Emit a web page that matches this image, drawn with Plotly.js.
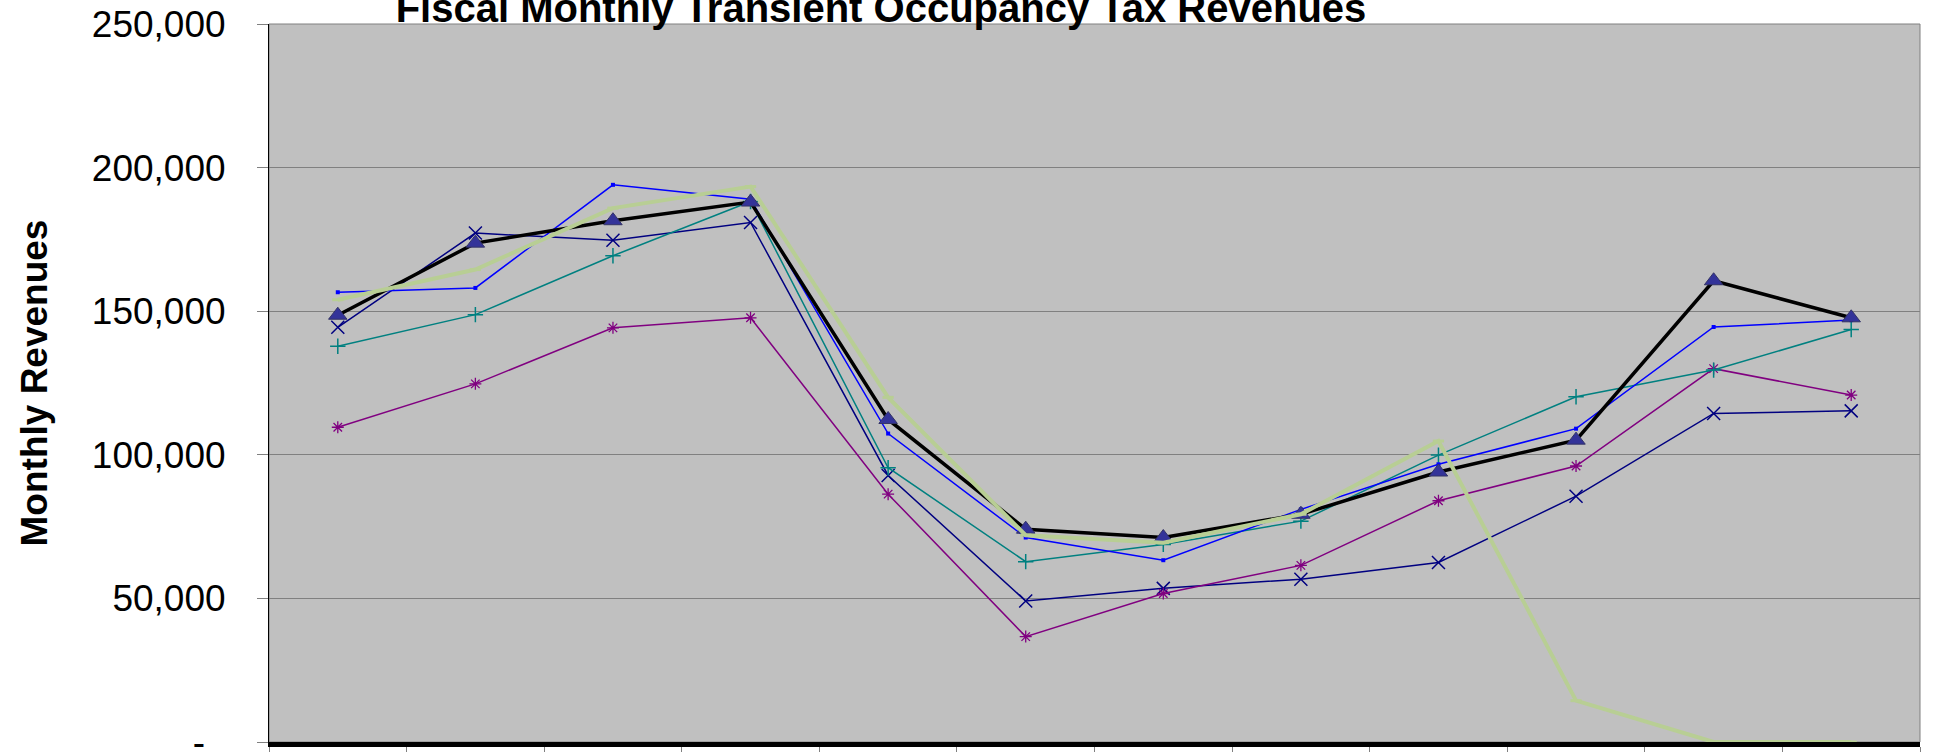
<!DOCTYPE html>
<html>
<head>
<meta charset="utf-8">
<script src="https://cdn.plot.ly/plotly-3.0.1.min.js"></script>
<style>html,body{margin:0;padding:0;background:#fff;}#chart{width:1933px;height:752px;}</style>
</head>
<body>
<div id="chart"></div>
<script>
// Categories (fiscal months)
const months = ["Jul","Aug","Sep","Oct","Nov","Dec","Jan","Feb","Mar","Apr","May","Jun"];

// Series values (monthly revenues, $)
const seriesNavy   = [144400, 177200, 174700, 180900,  92800, 49100, 53500, 56700,  62500,  85600, 114400, 115300];
const seriesPurple = [109600, 124700, 144200, 147700,  86300, 36700, 51700, 61500,  84000,  96100, 130000, 120800];
const seriesTeal   = [137800, 148800, 169300, 188200,  95500, 62800, 68800, 76900,  99900, 120200, 129500, 143600];
const seriesBlue   = [156600, 158100, 194000, 189000, 107400, 71200, 63300, 81000,  96700, 109100, 144500, 146900];
const seriesBlack  = [148600, 173700, 181500, 188000, 112300, 74100, 71200, 79300,  94000, 105100, 160600, 147700];
const seriesGreen  = [154000, 164500, 185900, 193400, 120000, 72000, 69400, 79300, 104800,  14400,      0,      0];

// Y tick values / labels
const yTickVals = [0, 50000, 100000, 150000, 200000, 250000];
const yTickText = ["-\u00a0\u00a0", "50,000", "100,000", "150,000", "200,000", "250,000"];

const FONT = "Arial, 'Liberation Sans', sans-serif";

const traces = [
  {name: "Series 1", x: months, y: seriesNavy, type: "scatter", mode: "lines+markers",
   line: {color: "#000080", width: 1.5},
   marker: {symbol: "x-thin-open", size: 13, color: "#000080", line: {color: "#000080", width: 1.5}}},
  {name: "Series 2", x: months, y: seriesPurple, type: "scatter", mode: "lines+markers",
   line: {color: "#800080", width: 1.5},
   marker: {symbol: "asterisk-open", size: 10, color: "#800080", line: {color: "#800080", width: 1.3}}},
  {name: "Series 3", x: months, y: seriesTeal, type: "scatter", mode: "lines+markers",
   line: {color: "#008080", width: 1.5},
   marker: {symbol: "cross-thin-open", size: 11, color: "#008080", line: {color: "#008080", width: 1.5}}},
  {name: "Series 4", x: months, y: seriesBlue, type: "scatter", mode: "lines+markers",
   line: {color: "#0000FF", width: 1.5},
   marker: {symbol: "square", size: 4, color: "#0000FF"}},
  {name: "Series 5", x: months, y: seriesBlack, type: "scatter", mode: "lines+markers",
   line: {color: "#000000", width: 3.5},
   marker: {symbol: "triangle-up", size: 16, color: "#333399", line: {color: "#333366", width: 1}}},
  {name: "Series 6", x: months, y: seriesGreen, type: "scatter", mode: "lines+markers",
   line: {color: "#B8CE94", width: 4},
   marker: {symbol: "line-ew-open", size: 8, color: "#B8CE94", line: {color: "#B8CE94", width: 3}}}
];

const layout = {
  width: 1933, height: 752,
  margin: {l: 269, r: 13, t: 24, b: 10, pad: 0},
  paper_bgcolor: "#ffffff",
  plot_bgcolor: "#C0C0C0",
  showlegend: false,
  font: {family: FONT, color: "#000000"},
  title: {
    text: "<b>Fiscal Monthly Transient Occupancy Tax Revenues</b>",
    font: {family: FONT, size: 40, color: "#000000"},
    xref: "paper", x: 0.3707, xanchor: "center",
    yref: "container", y: 0.990, yanchor: "middle"
  },
  xaxis: {
    type: "category",
    range: [-0.5, 11.5],
    showgrid: false, zeroline: false,
    showline: true, linecolor: "#000000", linewidth: 5,
    ticks: "outside", tickson: "boundaries", ticklen: 9, tickcolor: "#808080", tickwidth: 1,
    tickfont: {family: FONT, size: 37, color: "#000000"},
    ticklabelstandoff: -2,
    fixedrange: true
  },
  yaxis: {
    range: [0, 250000],
    tickvals: yTickVals, ticktext: yTickText,
    showgrid: true, gridcolor: "#808080", gridwidth: 1,
    zeroline: false,
    showline: true, linecolor: "#000000", linewidth: 1,
    ticks: "outside", ticklen: 11, tickcolor: "#808080", tickwidth: 1,
    ticklabelstandoff: 24,
    ticklabeloverflow: "allow",
    tickfont: {family: FONT, size: 37, color: "#000000"},
    title: {text: "<b>Monthly Revenues</b>", font: {family: FONT, size: 37, color: "#000000"}, standoff: 32},
    automargin: false,
    fixedrange: true
  },
  shapes: [
    {type: "rect", xref: "paper", yref: "paper", x0: 0, x1: 1, y0: 0, y1: 1,
     line: {color: "#808080", width: 1}, layer: "below"}
  ]
};

Plotly.newPlot("chart", traces, layout, {displayModeBar: false, staticPlot: true});
</script>
</body>
</html>
